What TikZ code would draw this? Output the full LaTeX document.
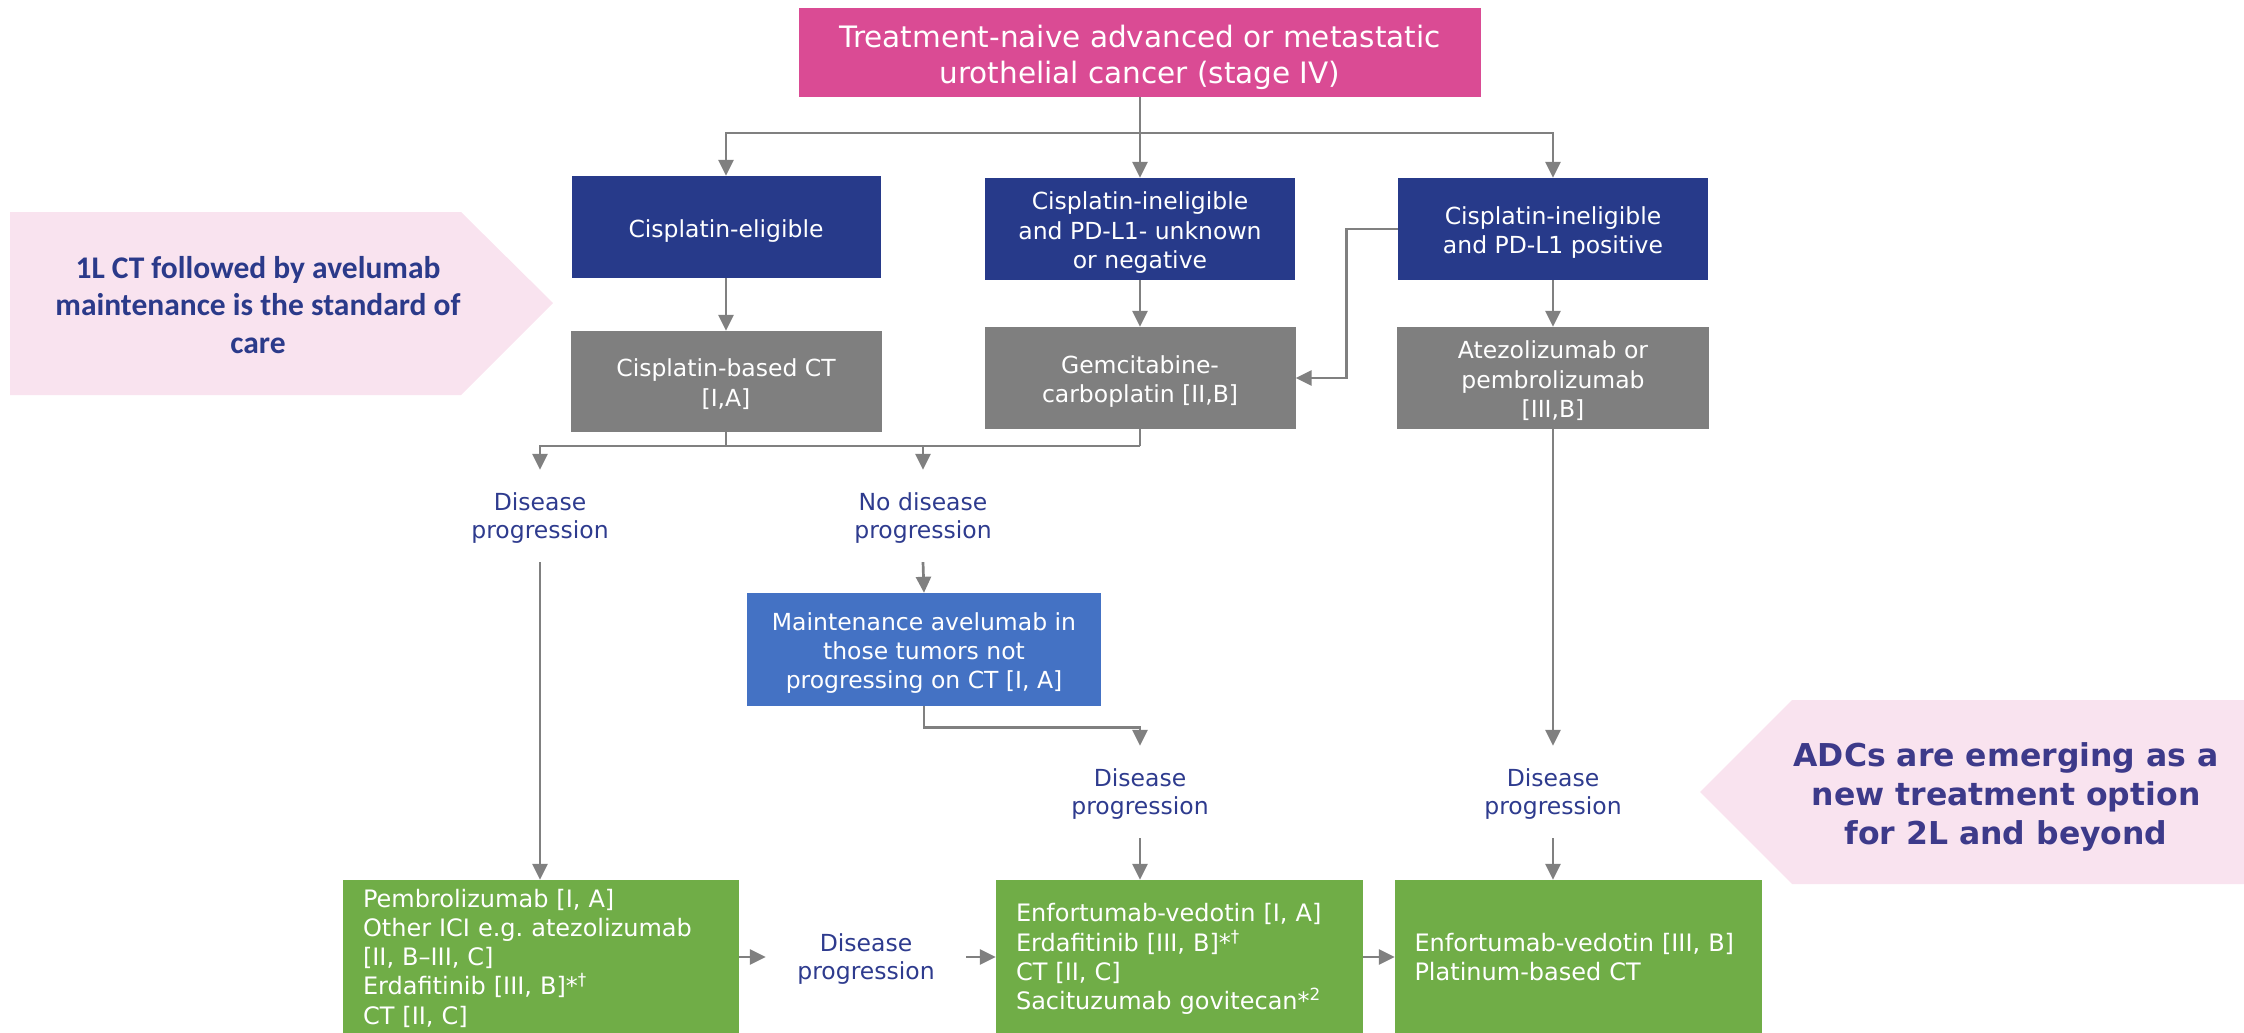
\documentclass[tikz,border=0pt]{standalone}
\usepackage{fontspec}
\setmainfont{DejaVu Sans}
\newfontfamily\calfont{Carlito}
\usetikzlibrary{arrows.meta}
\definecolor{topPink}{HTML}{DA4B94}
\definecolor{navyBox}{HTML}{273A8A}
\definecolor{grayBox}{HTML}{7F7F7F}
\definecolor{midBlue}{HTML}{4472C4}
\definecolor{greenBox}{HTML}{70AD47}
\definecolor{chevPink}{HTML}{F9E3EF}
\definecolor{labNavy}{HTML}{2E3B8E}
\definecolor{leftTxt}{HTML}{2B3A8A}
\definecolor{rightTxt}{HTML}{3D3A8A}
\definecolor{lineGray}{HTML}{808080}
% struts that fix where the text block sits in each box
\newcommand\topS{\rule{0pt}{33pt}}
\newcommand\boxS{\rule{0pt}{25.6pt}}
\newcommand\labS{\rule{0pt}{22pt}}
\newcommand\grS{\rule{0pt}{24.2pt}}
\newcommand\dpS[1]{\rule[-#1]{0pt}{#1}}
\begin{document}
\begin{tikzpicture}[x=1pt,y=-1pt,
  box/.style={draw=none, inner sep=0pt, align=center, text=white,
    font=\fontsize{23.5}{29.2}\selectfont},
  topbox/.style={box, fill=topPink, font=\fontsize{29.5}{35.6}\selectfont},
  navybox/.style={box, fill=navyBox},
  graybox/.style={box, fill=grayBox},
  maintbox/.style={box, fill=midBlue},
  greenbox/.style={draw=none, fill=greenBox, text=white, align=left,
    inner ysep=0pt, inner xsep=20pt, font=\fontsize{24}{29.2}\selectfont},
  lab/.style={inner sep=0pt, align=center, text=labNavy, minimum height=92pt,
    font=\fontsize{23.5}{28.3}\selectfont},
  conn/.style={draw=lineGray, line width=2.7pt},
  arr/.style={conn, -{Triangle[length=16pt,width=15pt]}},
]
\useasboundingbox (0,0) rectangle (2244,1033);

% chevrons
\fill[chevPink] (10,212) -- (461,212) -- (553,303) -- (461,395) -- (10,395) -- cycle;
\fill[chevPink] (2244,700) -- (1792,700) -- (1700,792) -- (1792,884) -- (2244,884) -- cycle;
\node[align=center, text=leftTxt, font=\calfont\bfseries\fontsize{31.5}{37.5}\selectfont]
  (leftnote) at (258,305) {1L CT followed by avelumab\\maintenance is the standard of\\care};
\node[align=center, text=rightTxt, font=\bfseries\fontsize{31.5}{39}\selectfont]
  (rightnote) at (2006,797) {ADCs are emerging as a\\new treatment option\\for 2L and beyond};

% boxes
\node[topbox, minimum width=682pt, minimum height=89pt] (top) at (1140,52.5)
  {\topS Treatment-naive advanced or metastatic\\urothelial cancer (stage IV)\dpS{7pt}};

\node[navybox, minimum width=309pt, minimum height=102pt] (B1) at (726,227)
  {\boxS Cisplatin-eligible\dpS{5.6pt}};
\node[navybox, minimum width=310pt, minimum height=102pt] (B2) at (1140,229)
  {\boxS Cisplatin-ineligible\\and PD-L1- unknown\\or negative\dpS{5.6pt}};
\node[navybox, minimum width=310pt, minimum height=102pt] (B3) at (1553,229)
  {\boxS Cisplatin-ineligible\\and PD-L1 positive\dpS{5.6pt}};

\node[graybox, minimum width=311pt, minimum height=101pt] (G1) at (726,381.5)
  {\boxS Cisplatin-based CT\\{[I,A]}\dpS{5.6pt}};
\node[graybox, minimum width=311pt, minimum height=102pt] (G2) at (1140,378)
  {\boxS Gemcitabine-\\carboplatin [II,B]\dpS{5.6pt}};
\node[graybox, minimum width=312pt, minimum height=102pt] (G3) at (1553,378)
  {\boxS Atezolizumab or\\pembrolizumab\\{[III,B]}\dpS{5.6pt}};

\node[lab] (DP1) at (540,516) {\labS Disease\\progression\dpS{5.6pt}};
\node[lab] (NDP) at (923,516) {\labS No disease\\progression\dpS{5.6pt}};

\node[maintbox, minimum width=354pt, minimum height=113pt] (M) at (924,649.5)
  {\boxS Maintenance avelumab in\\those tumors not\\progressing on CT [I, A]\dpS{5.6pt}};

\node[lab] (DP2) at (1140,792) {\labS Disease\\progression\dpS{5.6pt}};
\node[lab] (DP3) at (1553,792) {\labS Disease\\progression\dpS{5.6pt}};

\node[greenbox, text width=356pt, minimum height=153pt] (GR1) at (541,956.5)
  {\grS Pembrolizumab [I, A]\\Other ICI e.g.\ atezolizumab\\{[II, B–III, C]}\\Erdafitinib [III, B]*\textsuperscript{†}\\CT [II, C]\dpS{5.8pt}};
\node[greenbox, text width=327pt, minimum height=153pt] (GR2) at (1179.5,956.5)
  {\grS Enfortumab-vedotin [I, A]\\Erdafitinib [III, B]*\textsuperscript{†}\\CT [II, C]\\Sacituzumab govitecan*\textsuperscript{2}\dpS{5.8pt}};
\node[greenbox, text width=328pt, inner xsep=19.5pt, minimum height=153pt] (GR3) at (1578.5,956.5)
  {\grS Enfortumab-vedotin [III, B]\\Platinum-based CT\dpS{5.8pt}};

\node[lab, minimum width=200pt] (DP4) at (866,957) {\labS Disease\\progression\dpS{5.6pt}};

% connectors
\coordinate (split) at (1140,133);
\coordinate (jn) at (726,446);
\draw[conn] (top.south) -- (split);
\draw[arr] (split) -| (B1.north);
\draw[arr] (split) -- (B2.north);
\draw[arr] (split) -| (B3.north);

\draw[arr] (B1) -- (G1);
\draw[arr] (B2) -- (G2);
\draw[arr] (B3) -- (G3);
\draw[arr] (B3.west) -- ++(-51,0) |- (G2.east);

\draw[conn] (G1.south) -- (jn);
\draw[conn] (G2.south) -- (G2.south |- jn);
\draw[arr] (G2.south |- jn) -| (DP1.north);
\draw[arr] (NDP.north |- jn) -- (NDP.north);

\draw[arr] (NDP.south) -- (M.north);
\draw[arr] (M.south) -- ++(0,21) -| (DP2.north);
\draw[arr] (G3.south) -- (DP3.north);

\draw[arr] (DP1.south) -- (DP1.south |- GR1.north);
\draw[arr] (DP2.south) -- (DP2.south |- GR2.north);
\draw[arr] (DP3.south) -- (DP3.south |- GR3.north);

\draw[arr] (GR1.east |- DP4.west) -- (DP4.west);
\draw[arr] (DP4.east) -- (DP4.east -| GR2.west);
\draw[arr] (GR2.east |- DP4.east) -- (GR2.east |- DP4.east -| GR3.west);
\end{tikzpicture}
\end{document}
